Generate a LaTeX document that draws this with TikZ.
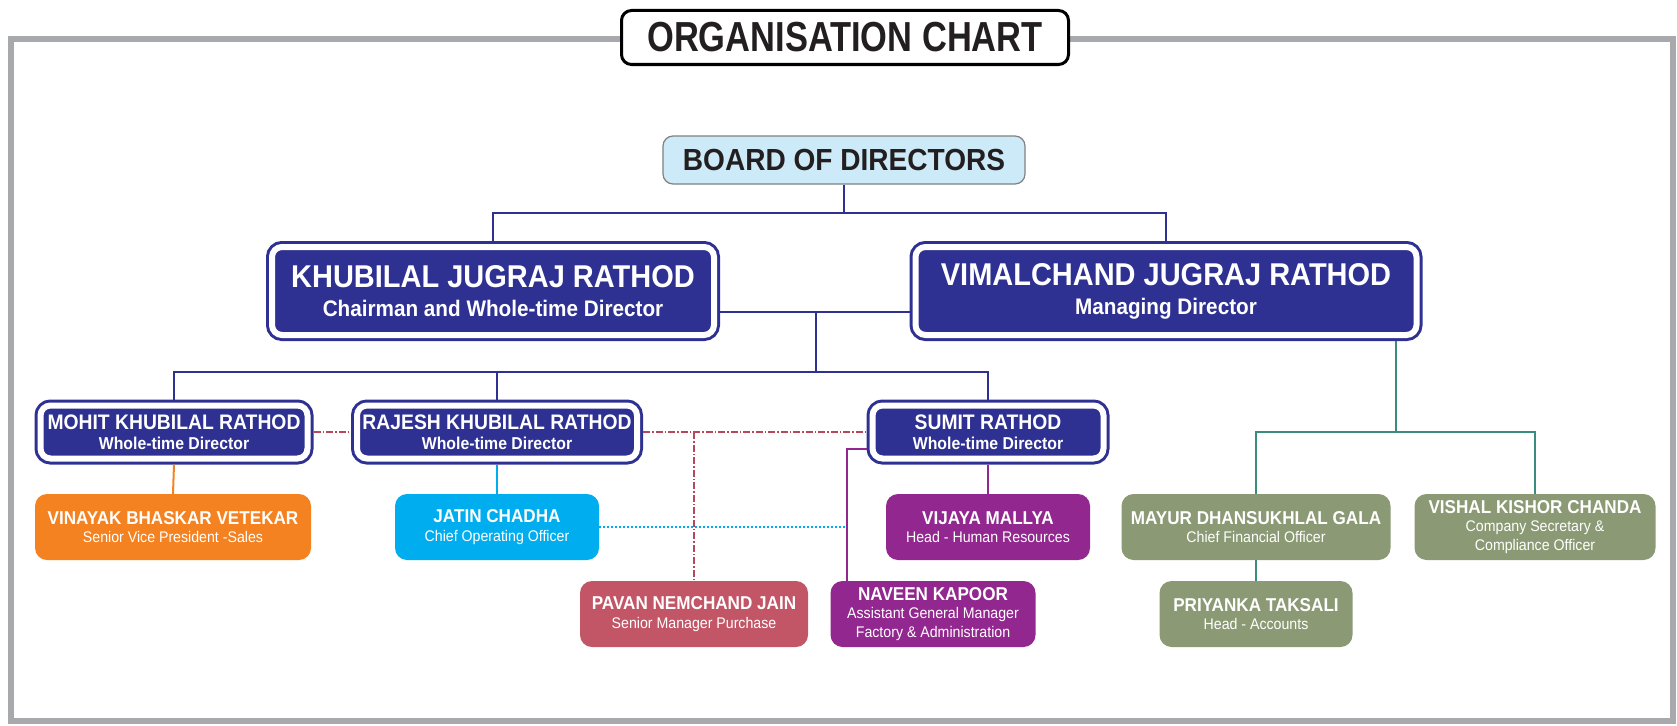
\documentclass[tikz,border=0pt]{standalone}
\usepackage{fontspec}
\setmainfont[FakeStretch=0.92]{Liberation Sans}
\newfontfamily\titlefont[FakeStretch=0.82]{Liberation Sans}
\usetikzlibrary{positioning}

\definecolor{navy}{HTML}{2E3192}
\definecolor{boardblue}{HTML}{CCEAF8}
\definecolor{framegray}{HTML}{A7A9AC}
\definecolor{inkblack}{HTML}{231F20}
\definecolor{salesorange}{HTML}{F58220}
\definecolor{opscyan}{HTML}{00AEEF}
\definecolor{hrpurple}{HTML}{92278F}
\definecolor{buyrose}{HTML}{C25667}
\definecolor{dashred}{HTML}{B9475A}
\definecolor{finolive}{HTML}{8B9A74}
\definecolor{finteal}{HTML}{3A8C7E}

% fonts for the two lines of each box
\newcommand{\headname}{\fontsize{31.5}{29}\selectfont\bfseries}
\newcommand{\headrole}{\fontsize{22.5}{29}\selectfont\bfseries}
\newcommand{\dirname}{\fontsize{21}{20}\selectfont\bfseries}
\newcommand{\dirrole}{\fontsize{17.2}{20}\selectfont\bfseries}
\newcommand{\staffname}{\fontsize{18.6}{18.5}\selectfont\bfseries}
\newcommand{\staffrole}{\fontsize{15.4}{18.5}\selectfont\mdseries}

\begin{document}
\begin{tikzpicture}[x=1pt, y=-1pt,
    every node/.style={inner sep=0pt},
    director/.style={draw=navy, line width=3pt, double=white, double distance=6pt,
        fill=navy, rounded corners=10pt, text=white, align=center, outer sep=6pt},
    head/.style={director, font=\headname, minimum height=88pt},
    wtd/.style={director, font=\dirname, minimum height=53pt},
    member/.style={fill=#1, rounded corners=12pt, text=white, align=center,
        minimum height=66pt, font=\staffname},
    link/.style={draw=navy, line width=2pt},
    finlink/.style={draw=finteal, line width=2.5pt},
    dotlink/.style={draw=dashred, line width=2pt,
        dash pattern=on 7pt off 2pt on 1.5pt off 2pt}]
\useasboundingbox (0,0) rectangle (1677,725);

    % Outer frame and heading
    \draw[framegray, line width=6pt] (11,39) rectangle (1673,721);
    \node[draw=black, line width=3pt, fill=white, rounded corners=10pt,
        minimum width=447pt, minimum height=54pt, text=inkblack,
        font=\titlefont\fontsize{42}{42}\selectfont\bfseries] (title) at (845,37.5) {ORGANISATION CHART};

    % Board
    \node[draw=gray, line width=1.2pt, fill=boardblue, rounded corners=10pt,
        minimum width=362pt, minimum height=48pt, text=inkblack,
        font=\fontsize{30.5}{30.5}\selectfont\bfseries] (board) at (844,160) {BOARD OF DIRECTORS};

    % Chairman and managing director
    \node[head, minimum width=442pt] (kjr) at (493,291)
        {KHUBILAL JUGRAJ RATHOD\\\headrole Chairman and Whole-time Director};
    \node[head, minimum width=501pt] (vjr) at (1166,291)
        {VIMALCHAND JUGRAJ RATHOD\\\headrole Managing Director};

    % Whole-time directors
    \node[wtd, minimum width=267pt] (mkr) at (174,432)
        {MOHIT KHUBILAL RATHOD\\\dirrole Whole-time Director};
    \node[wtd, minimum width=280pt] (rkr) at (497,432)
        {RAJESH KHUBILAL RATHOD\\\dirrole Whole-time Director};
    \node[wtd, minimum width=231pt] (sr) at (988,432)
        {SUMIT RATHOD\\\dirrole Whole-time Director};

    % Management team
    \node[member=salesorange, minimum width=276pt] (vbv) at (173,527)
        {VINAYAK BHASKAR VETEKAR\\\staffrole Senior Vice President -Sales};
    \node[member=opscyan, minimum width=204pt] (jc) at (497,527)
        {JATIN CHADHA\\\staffrole Chief Operating Officer};
    \node[member=hrpurple, minimum width=204pt] (vm) at (988,527)
        {VIJAYA MALLYA\\\staffrole Head - Human Resources};
    \node[member=buyrose, minimum width=228pt] (pnj) at (694,614)
        {PAVAN NEMCHAND JAIN\\\staffrole Senior Manager Purchase};
    \node[member=hrpurple, minimum width=205pt] (nk) at (933,614)
        {NAVEEN KAPOOR\\\staffrole Assistant General Manager\\\staffrole Factory \& Administration};
    \node[member=finolive, minimum width=269pt] (mdg) at (1256,527)
        {MAYUR DHANSUKHLAL GALA\\\staffrole Chief Financial Officer};
    \node[member=finolive, minimum width=241pt] (vkc) at (1535,527)
        {VISHAL KISHOR CHANDA\\\staffrole Company Secretary \&\\\staffrole Compliance Officer};
    \node[member=finolive, minimum width=193pt] (pt) at (1256,614)
        {PRIYANKA TAKSALI\\\staffrole Head - Accounts};

    % Junction points
    \coordinate (top) at (844,213);
    \coordinate (mid) at (816,312);
    \coordinate (row) at (816,372);
    \coordinate (fin) at (1396,432);
    \coordinate (bend) at (847,449);

    % Board lines
    \draw[link] (board.south) -- (top);
    \draw[link] (kjr.north) |- (top) -| (vjr.north);
    \draw[link] (kjr.east |- mid) -- (vjr.west |- mid);
    \draw[link] (mid) -- (row);
    \draw[link] (mkr.north) |- (row) -| (sr.north);
    \draw[link] (rkr.north) -- (rkr.north |- row);

    % Reporting lines
    \draw[salesorange, line width=2pt] (mkr.south) -- (vbv.north);
    \draw[opscyan, line width=2pt] (rkr.south) -- (jc.north);
    \draw[hrpurple, line width=2pt] (sr.south) -- (vm.north);
    \draw[hrpurple, line width=2pt] (sr.west |- bend) -- (bend) -- (bend |- nk.north);
    \draw[opscyan, line width=2pt, dotted] (jc.east) -- (jc.east -| bend);
    \draw[dotlink] (mkr.east) -- (rkr.west);
    \draw[dotlink] (rkr.east) -- (sr.west);
    \draw[dotlink] (pnj.north |- rkr.east) -- (pnj.north);
    \draw[finlink] (vjr.south -| fin) -- (fin);
    \draw[finlink] (mdg.north) |- (fin) -| (vkc.north);
    \draw[finlink] (mdg.south) -- (pt.north);
\end{tikzpicture}
\end{document}
